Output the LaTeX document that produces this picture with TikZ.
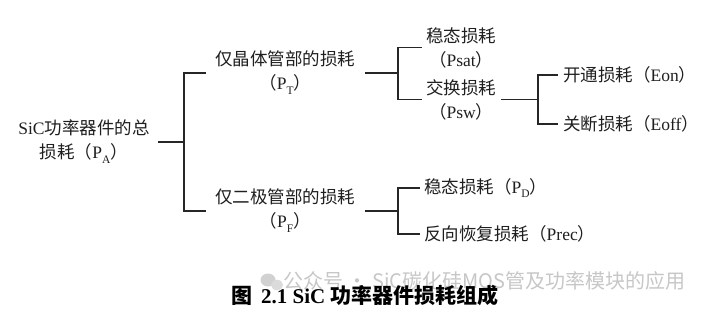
\documentclass[tikz,border=0pt]{standalone}
\usepackage{fontspec}
\setmainfont{Liberation Serif}
\newfontfamily\cjk{Noto Sans CJK SC}
\newcommand{\zh}[1]{{\cjk #1}}
\newcommand{\lsub}[1]{\raisebox{-0.28em}{\fontsize{11.5}{11.5}\selectfont #1}}
\begin{document}
\begin{tikzpicture}[x=1pt,y=-1pt,
  txt/.style={inner sep=0pt, align=center, font=\fontsize{17.5}{24}\selectfont, text=black!88},
  conn/.style={line width=1.5pt, draw=black!85}]
\useasboundingbox (0,0) rectangle (708,312);
\fill[white] (0,0) rectangle (708,312);
% watermark
\fill[black!18] (268,280) ellipse (7.5 and 6.5);
\fill[black!14] (277,285) ellipse (6 and 5.2);
\node[anchor=west, text=black!22, font=\cjk\fontsize{20}{20}\selectfont, inner sep=0pt] (wm) at (283,281) {公众号 · SiC碳化硅MOS管及功率模块的应用};
% nodes
\node[txt] (root) at (84,142) {SiC\zh{功率器件的总}\\\zh{损耗（}P\lsub{A}\zh{）}};
\node[txt,anchor=west] (T) at (215,73) {\zh{仅晶体管部的损耗}\\\zh{（}P\lsub{T}\zh{）}};
\node[txt,anchor=west] (F) at (215,211) {\zh{仅二极管部的损耗}\\\zh{（}P\lsub{F}\zh{）}};
\node[txt,anchor=west] (Psat) at (426,47.5) {\zh{稳态损耗}\\\zh{（}Psat\zh{）}};
\node[txt,anchor=west] (Psw) at (426,99.5) {\zh{交换损耗}\\\zh{（}Psw\zh{）}};
\node[txt,anchor=west] (Eon) at (563,75) {\zh{开通损耗（}Eon\zh{）}};
\node[txt,anchor=west] (Eoff) at (563,124) {\zh{关断损耗（}Eoff\zh{）}};
\node[txt,anchor=west] (PD) at (424,188) {\zh{稳态损耗（}P\lsub{D}\zh{）}};
\node[txt,anchor=west] (Prec) at (424,234) {\zh{反向恢复损耗（}Prec\zh{）}};
% junctions
\coordinate (r0) at (158,142);
\coordinate (j1) at (184,142);
\coordinate (j2) at (398,73);
\coordinate (j3) at (538,99.5);
\coordinate (j4) at (398,211);
% connectors
\draw[conn] (r0) -- (j1);
\draw[conn] (j1) |- ([xshift=-9pt]T.west);
\draw[conn] (j1) |- ([xshift=-9pt]F.west);
\draw[conn] ([xshift=10pt]T.east) -- (j2);
\draw[conn] (j2) |- ([xshift=-4pt]Psat.west);
\draw[conn] (j2) |- ([xshift=-4pt]Psw.west);
\draw[conn] ([xshift=5pt]Psw.east) -- (j3);
\draw[conn] (j3) |- ([xshift=-5pt]Eon.west);
\draw[conn] (j3) |- ([xshift=-5pt]Eoff.west);
\draw[conn] ([xshift=10pt]F.east) -- (j4);
\draw[conn] (j4) |- ([xshift=-4pt]PD.west);
\draw[conn] (j4) |- ([xshift=-4pt]Prec.west);
% caption
\node[inner sep=0pt, font=\fontsize{21}{21}\selectfont\bfseries] (cap) at (365,295) {\zh{图}\, 2.1 SiC \zh{功率器件损耗组成}};
\end{tikzpicture}
\end{document}
